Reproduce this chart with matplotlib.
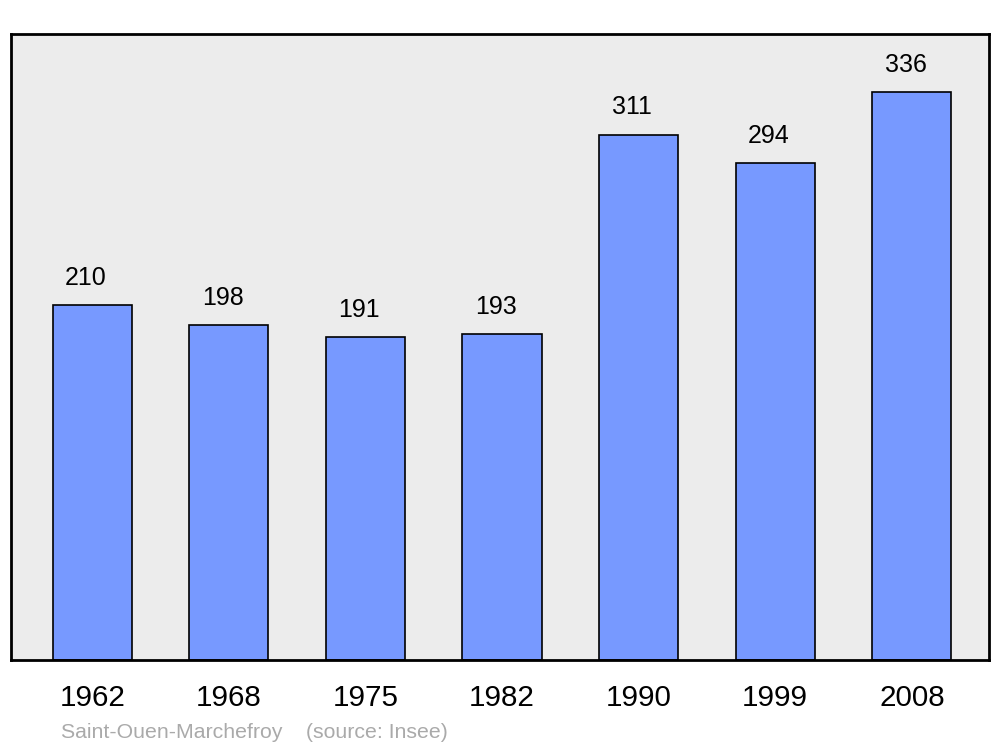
import matplotlib.pyplot as plt
import numpy as np

years = ['1962', '1968', '1975', '1982', '1990', '1999', '2008']
population = [210, 198, 191, 193, 311, 294, 336]

plt.rcParams['font.family'] = ['Liberation Sans', 'DejaVu Sans']

fig = plt.figure(figsize=(10, 7.47), dpi=100)
ax = fig.add_axes([0.011, 0.1165, 0.978, 0.838])
ax.set_facecolor('#ececec')

x = np.arange(len(years))
bars = ax.bar(x, population, width=0.58, color='#7799ff', edgecolor='black', linewidth=1.2)

# value labels sit a bit left of the bar centre, like the original
for rect, v in zip(bars, population):
    ax.annotate(str(v), (rect.get_x() + rect.get_width() / 2, v),
                xytext=(-4.5, 11), textcoords='offset points',
                ha='center', va='bottom', fontsize=18)

ax.set_xlim(-0.595, 6.565)
ax.set_ylim(0, 370.5)
ax.set_xticks(x, years, fontsize=21.3)
ax.tick_params(axis='x', length=0, pad=17)
ax.set_yticks([])

for s in ax.spines.values():
    s.set_linewidth(2)

fig.text(0.061, 0.012, 'Saint-Ouen-Marchefroy    (source: Insee)', color='#aaaaaa', fontsize=15.3)

fig.savefig('out.png', dpi=100)
